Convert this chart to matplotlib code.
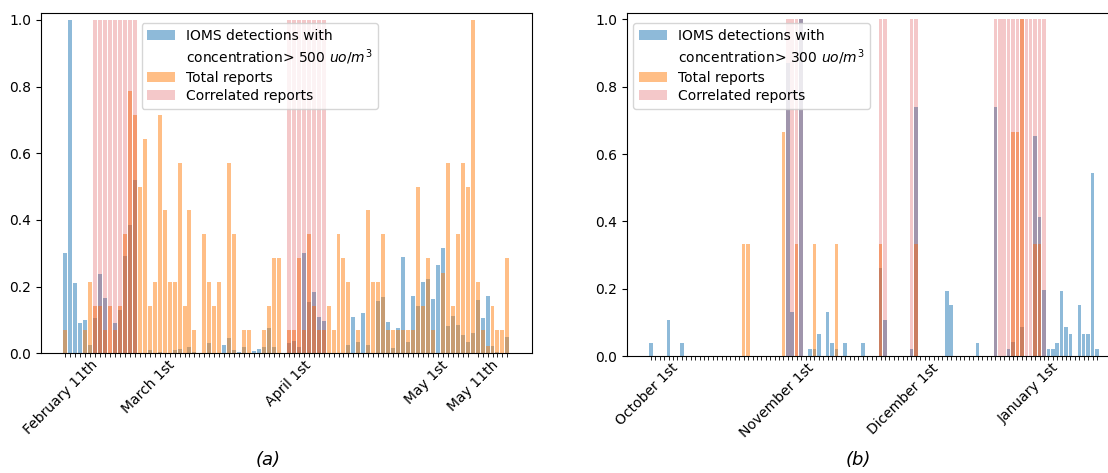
import numpy as np
import matplotlib
matplotlib.use('Agg')
import matplotlib.pyplot as plt
from matplotlib.patches import Patch

# ---------------- Panel (a) data ----------------
a_ioms = [0.30, 1.0, 0.21, 0.09, 0.10, 0.025, 0.107, 0.238, 0.166, 0.0,
          0.092, 0.13, 0.293, 0.384, 0.52, 0.0, 0.0, 0.01, 0.0, 0.005,
          0.0, 0.0, 0.01, 0.012, 0.0, 0.02, 0.005, 0.0, 0.0, 0.03,
          0.0, 0.0, 0.025, 0.045, 0.01, 0.005, 0.018, 0.0, 0.008, 0.013,
          0.018, 0.075, 0.02, 0.0, 0.0, 0.03, 0.037, 0.02, 0.30, 0.155,
          0.185, 0.11, 0.097, 0.0, 0.0, 0.0, 0.0, 0.024, 0.11, 0.035,
          0.12, 0.026, 0.0, 0.157, 0.17, 0.093, 0.017, 0.075, 0.29, 0.033,
          0.173, 0.143, 0.213, 0.223, 0.162, 0.265, 0.315, 0.082, 0.112, 0.086,
          0.056, 0.035, 0.061, 0.16, 0.106, 0.173, 0.022, 0.005, 0.0, 0.05]
a_total = [0.071, 0.0, 0.0, 0.0, 0.071, 0.214, 0.143, 0.143, 0.071, 0.143,
           0.071, 0.143, 0.357, 0.786, 0.714, 0.5, 0.643, 0.143, 0.214, 0.714,
           0.429, 0.214, 0.214, 0.571, 0.143, 0.429, 0.071, 0.0, 0.357, 0.214,
           0.143, 0.214, 0.0, 0.571, 0.357, 0.0, 0.071, 0.071, 0.0, 0.0,
           0.071, 0.143, 0.286, 0.286, 0.0, 0.071, 0.071, 0.286, 0.071, 0.357,
           0.143, 0.071, 0.071, 0.143, 0.071, 0.357, 0.286, 0.214, 0.0, 0.071,
           0.0, 0.429, 0.214, 0.214, 0.357, 0.071, 0.071, 0.071, 0.071, 0.071,
           0.071, 0.5, 0.143, 0.286, 0.071, 0.0, 0.24, 0.571, 0.143, 0.357,
           0.571, 0.5, 1.0, 0.214, 0.071, 0.022, 0.143, 0.071, 0.071, 0.286]
a_corr_days = [6, 7, 8, 9, 10, 11, 12, 13, 14, 45, 46, 47, 48, 49, 50, 51, 52]
a_tick_pos = [-0.87, 16.74, 44.9, 72.7, 82.0]
a_tick_labels = ['February 11th', 'March 1st', 'April 1st', 'May 1st', 'May 11th']

# ---------------- Panel (b) data ----------------
b_ioms = [0.04, 0, 0, 0, 0.107, 0, 0, 0.04, 0, 0,
          0, 0, 0, 0, 0, 0, 0, 0, 0, 0,
          0, 0, 0, 0, 0, 0, 0, 0, 0, 0,
          0, 0.87, 0.13, 0, 1.0, 0, 0.02, 0.02, 0.065, 0,
          0.13, 0.04, 0.02, 0, 0.04, 0, 0, 0, 0.04, 0,
          0, 0, 0.26, 0.107, 0, 0, 0, 0, 0, 0.02,
          0.74, 0, 0, 0, 0, 0, 0, 0.194, 0.152, 0,
          0, 0, 0, 0, 0.04, 0, 0, 0, 0.74, 0,
          0, 0.02, 0.043, 0, 0.085, 0, 0, 0.653, 0.413, 0.195,
          0.02, 0.02, 0.04, 0.194, 0.085, 0.065, 0, 0.152, 0.065, 0.065,
          0.544, 0.02]
b_total = [0, 0, 0, 0, 0, 0, 0, 0, 0, 0,
           0, 0, 0, 0, 0, 0, 0, 0, 0, 0,
           0, 0.333, 0.333, 0, 0, 0, 0, 0, 0, 0,
           0.667, 0, 0, 0.333, 0, 0, 0, 0.333, 0, 0,
           0, 0, 0.333, 0, 0, 0, 0, 0, 0, 0,
           0, 0, 0.333, 0, 0, 0, 0, 0, 0, 0,
           0.333, 0, 0, 0, 0, 0, 0, 0, 0, 0,
           0, 0, 0, 0, 0, 0, 0, 0, 0, 0,
           0, 0, 0.667, 0.667, 1.0, 0, 0, 0.333, 0.333, 0,
           0, 0, 0, 0, 0, 0, 0, 0, 0, 0,
           0, 0]
b_corr_days = [31, 32, 33, 34, 52, 53, 59, 60,
               78, 79, 80, 81, 82, 83, 84, 85, 86, 87, 88, 89]
b_tick_pos = [-0.9, 28.5, 57.2, 85.5]
b_tick_labels = ['October 1st', 'November 1st', 'Dicember 1st', 'January 1st']

W, H = 1108, 473
fig = plt.figure(figsize=(W / 100, H / 100), dpi=100)

def px_axes(x0, x1, top, bottom):
    return fig.add_axes([x0 / W, 1 - bottom / H, (x1 - x0) / W, (bottom - top) / H])

ax_a = px_axes(41, 531.7, 13.3, 353.3)
ax_b = px_axes(626.7, 1121.2, 12.7, 356)


def draw(ax, ioms, total, corr, thr, tick_pos, tick_labels, leg_xy):
    x = np.arange(len(ioms))
    b1 = ax.bar(x, ioms, width=0.8, color='C0', alpha=0.5)
    b2 = ax.bar(x, total, width=0.8, color='C1', alpha=0.5)
    b3 = ax.bar(corr, [1.0] * len(corr), width=0.8, color='C3', alpha=0.25)
    ax.set_ylim(0, 1.02)
    ax.set_xticks(x, minor=True)
    ax.set_xticks(tick_pos)
    ax.set_xticklabels(tick_labels, rotation=45, fontsize=10)
    ax.tick_params(axis='x', which='major', length=0)
    ax.tick_params(axis='x', which='minor', length=3)
    ax.tick_params(axis='y', labelsize=10)
    blank = Patch(facecolor='none', edgecolor='none')
    ax.legend([b1, blank, b2, b3],
              ['IOMS detections with', 'concentration> %d $uo/m^3$' % thr,
               'Total reports', 'Correlated reports'],
              loc='upper left', bbox_to_anchor=(leg_xy[0] / W, 1 - leg_xy[1] / H),
              bbox_transform=fig.transFigure, borderaxespad=0, fontsize=10,
              labelspacing=0.3)


draw(ax_a, a_ioms, a_total, a_corr_days, 500, a_tick_pos, a_tick_labels, (141.7, 23.3))
draw(ax_b, b_ioms, b_total, b_corr_days, 300, b_tick_pos, b_tick_labels, (633.3, 23.3))

fig.text(268 / W, 1 - 460 / H, '(a)', ha='center', va='center', fontsize=13, style='italic')
fig.text(858 / W, 1 - 460 / H, '(b)', ha='center', va='center', fontsize=13, style='italic')

fig.savefig('out.png', dpi=100)
